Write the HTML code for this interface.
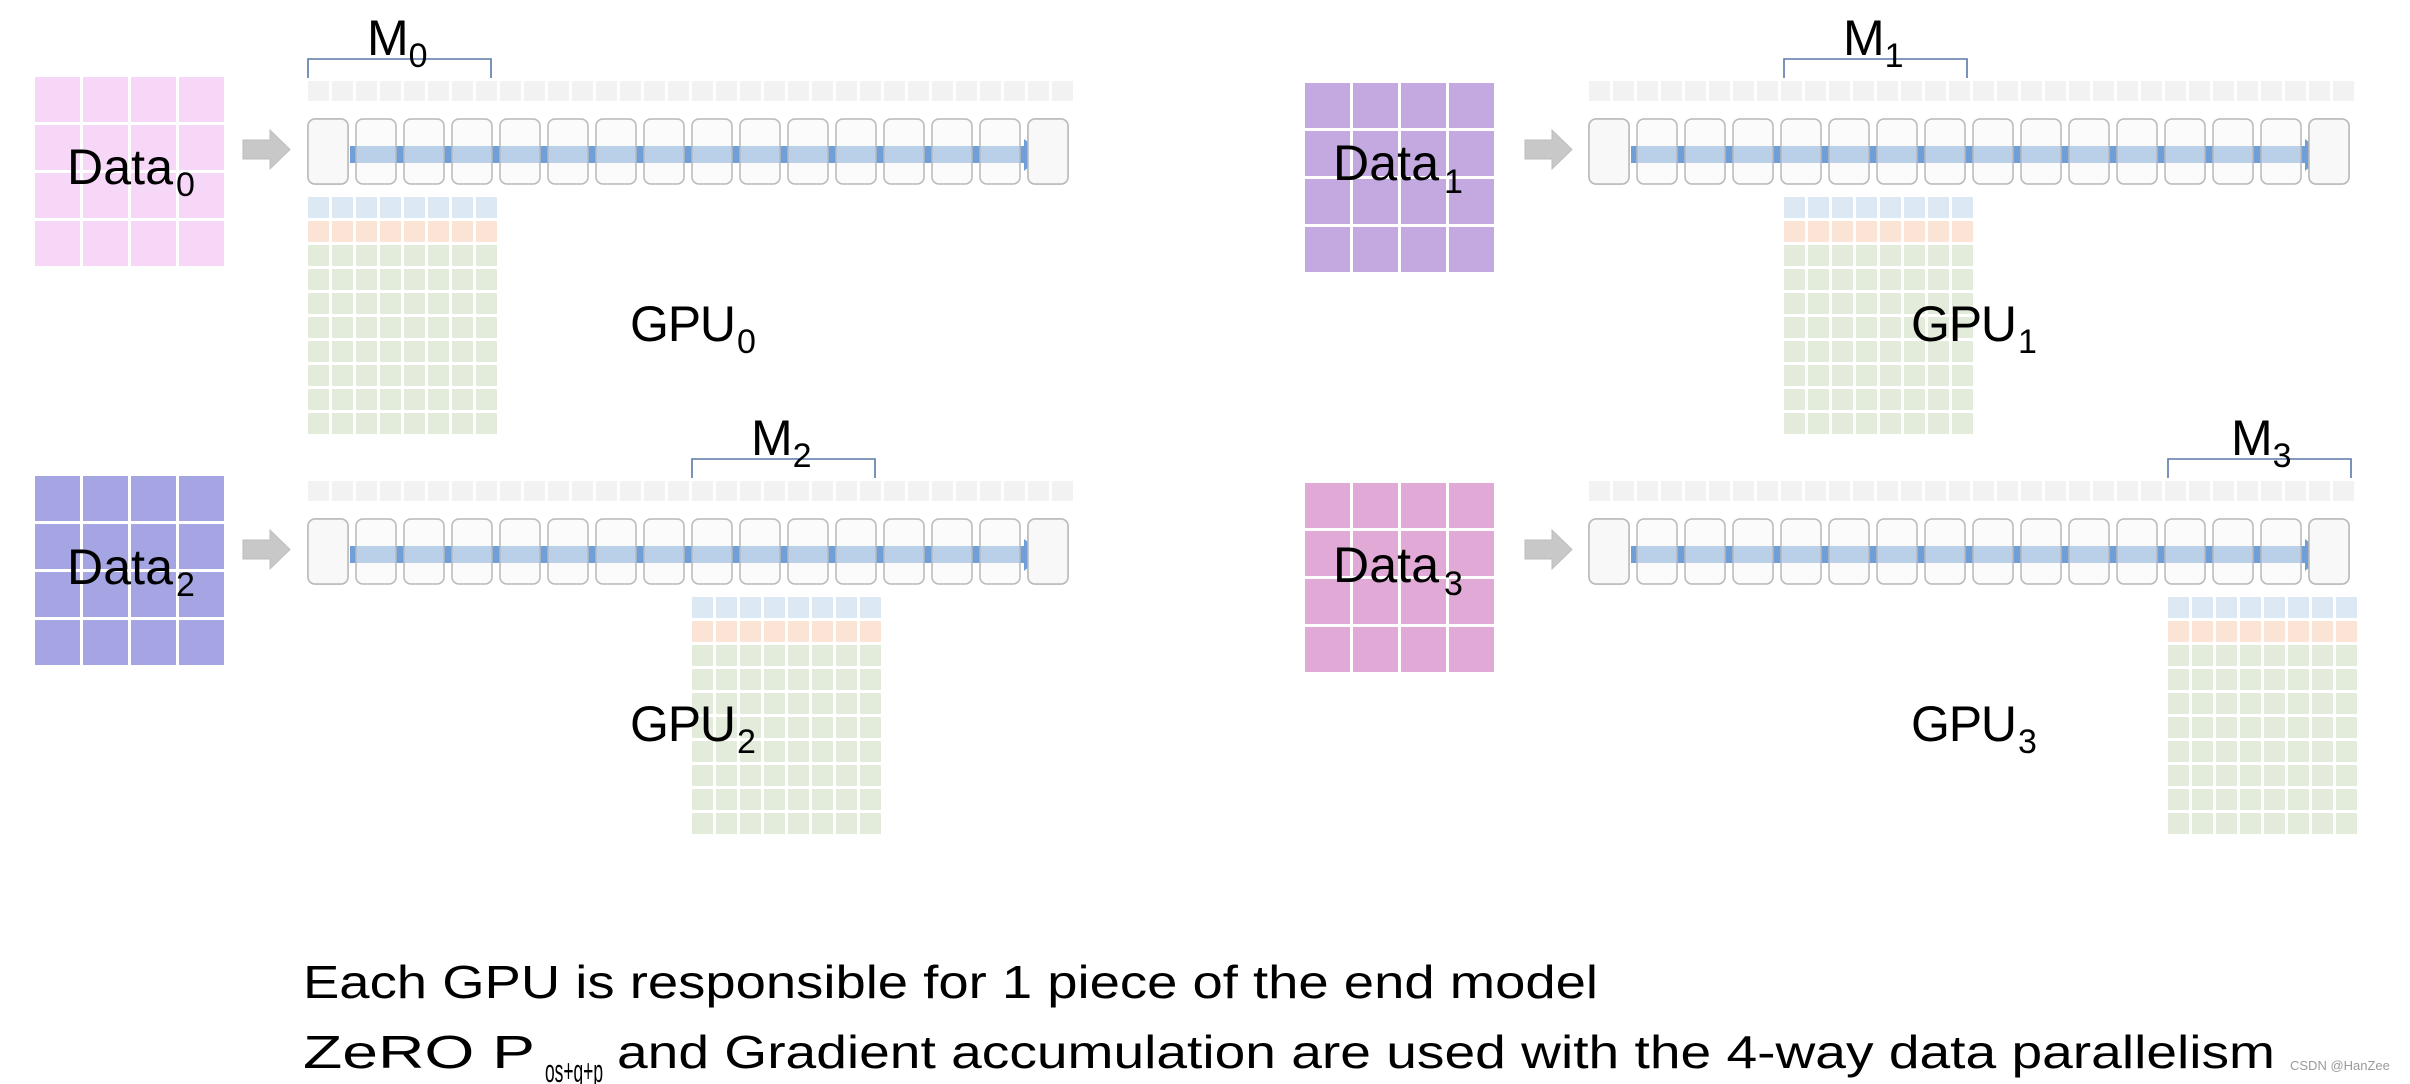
<!DOCTYPE html>
<html><head><meta charset="utf-8"><style>
html,body{margin:0;padding:0;background:#fff;}
svg{display:block;}
text{font-family:"Liberation Sans",sans-serif;fill:#000;}
</style></head><body>
<svg width="2410" height="1084" viewBox="0 0 2410 1084" xmlns="http://www.w3.org/2000/svg">
<defs>
  <g id="strip">
    <rect x="0" y="0" width="20" height="20" fill="#f2f2f2"/>
  </g>
  <g id="row">
    <!-- strip -->
    <g fill="#f2f2f2">
      <rect x="0" y="0" width="21" height="20"/><rect x="24" y="0" width="21" height="20"/><rect x="48" y="0" width="21" height="20"/><rect x="72" y="0" width="21" height="20"/>
      <rect x="96" y="0" width="21" height="20"/><rect x="120" y="0" width="21" height="20"/><rect x="144" y="0" width="21" height="20"/><rect x="168" y="0" width="21" height="20"/>
      <rect x="192" y="0" width="21" height="20"/><rect x="216" y="0" width="21" height="20"/><rect x="240" y="0" width="21" height="20"/><rect x="264" y="0" width="21" height="20"/>
      <rect x="288" y="0" width="21" height="20"/><rect x="312" y="0" width="21" height="20"/><rect x="336" y="0" width="21" height="20"/><rect x="360" y="0" width="21" height="20"/>
      <rect x="384" y="0" width="21" height="20"/><rect x="408" y="0" width="21" height="20"/><rect x="432" y="0" width="21" height="20"/><rect x="456" y="0" width="21" height="20"/>
      <rect x="480" y="0" width="21" height="20"/><rect x="504" y="0" width="21" height="20"/><rect x="528" y="0" width="21" height="20"/><rect x="552" y="0" width="21" height="20"/>
      <rect x="576" y="0" width="21" height="20"/><rect x="600" y="0" width="21" height="20"/><rect x="624" y="0" width="21" height="20"/><rect x="648" y="0" width="21" height="20"/>
      <rect x="672" y="0" width="21" height="20"/><rect x="696" y="0" width="21" height="20"/><rect x="720" y="0" width="21" height="20"/><rect x="744" y="0" width="21" height="20"/>
    </g>
    <!-- blue arrow -->
    <rect x="42" y="65" width="676" height="17" fill="#6f9fd8"/>
    <polygon points="716,58 736,73.5 716,90" fill="#6f9fd8"/>
    <!-- boxes -->
    <g fill="#f8f8f8" fill-opacity="0.55" stroke="#b8b8b8" stroke-width="1.5">
      <rect x="0" y="38" width="40" height="65" rx="7"/><rect x="48" y="38" width="40" height="65" rx="7"/><rect x="96" y="38" width="40" height="65" rx="7"/><rect x="144" y="38" width="40" height="65" rx="7"/>
      <rect x="192" y="38" width="40" height="65" rx="7"/><rect x="240" y="38" width="40" height="65" rx="7"/><rect x="288" y="38" width="40" height="65" rx="7"/><rect x="336" y="38" width="40" height="65" rx="7"/>
      <rect x="384" y="38" width="40" height="65" rx="7"/><rect x="432" y="38" width="40" height="65" rx="7"/><rect x="480" y="38" width="40" height="65" rx="7"/><rect x="528" y="38" width="40" height="65" rx="7"/>
      <rect x="576" y="38" width="40" height="65" rx="7"/><rect x="624" y="38" width="40" height="65" rx="7"/><rect x="672" y="38" width="40" height="65" rx="7"/><rect x="720" y="38" width="40" height="65" rx="7"/>
    </g>
    <rect x="0" y="38" width="40" height="65" rx="7" fill="#f8f8f8" stroke="#b8b8b8" stroke-width="1.5"/>
    <rect x="720" y="38" width="40" height="65" rx="7" fill="#f8f8f8" stroke="#b8b8b8" stroke-width="1.5"/>
  </g>
  <g id="garrow">
    <polygon points="0,10 27,10 27,0 47,19.5 27,39 27,29 0,29" fill="#c8c8c8" stroke="#bdbdbd" stroke-width="1"/>
  </g>
  <g id="shard">
    <g fill="#dde8f5">
      <rect x="0" y="0" width="21" height="21"/><rect x="24" y="0" width="21" height="21"/><rect x="48" y="0" width="21" height="21"/><rect x="72" y="0" width="21" height="21"/><rect x="96" y="0" width="21" height="21"/><rect x="120" y="0" width="21" height="21"/><rect x="144" y="0" width="21" height="21"/><rect x="168" y="0" width="21" height="21"/>
    </g>
    <g fill="#fbe4d6">
      <rect x="0" y="24" width="21" height="21"/><rect x="24" y="24" width="21" height="21"/><rect x="48" y="24" width="21" height="21"/><rect x="72" y="24" width="21" height="21"/><rect x="96" y="24" width="21" height="21"/><rect x="120" y="24" width="21" height="21"/><rect x="144" y="24" width="21" height="21"/><rect x="168" y="24" width="21" height="21"/>
    </g>
    <g id="grow" fill="#e3ecdb">
      <rect x="0" y="48" width="21" height="21"/><rect x="24" y="48" width="21" height="21"/><rect x="48" y="48" width="21" height="21"/><rect x="72" y="48" width="21" height="21"/><rect x="96" y="48" width="21" height="21"/><rect x="120" y="48" width="21" height="21"/><rect x="144" y="48" width="21" height="21"/><rect x="168" y="48" width="21" height="21"/>
    </g>
    <use href="#grow" y="24"/><use href="#grow" y="48"/><use href="#grow" y="72"/><use href="#grow" y="96"/><use href="#grow" y="120"/><use href="#grow" y="144"/><use href="#grow" y="168"/>
  </g>
  <g id="bracket">
    <path d="M0,19 V0 H183 V19" fill="none" stroke="#5a78a8" stroke-width="1.6"/>
  </g>
  <g id="dgrid">
    <rect x="0" y="0" width="45" height="45"/><rect x="48" y="0" width="45" height="45"/><rect x="96" y="0" width="45" height="45"/><rect x="144" y="0" width="45" height="45"/>
    <rect x="0" y="48" width="45" height="45"/><rect x="48" y="48" width="45" height="45"/><rect x="96" y="48" width="45" height="45"/><rect x="144" y="48" width="45" height="45"/>
    <rect x="0" y="96" width="45" height="45"/><rect x="48" y="96" width="45" height="45"/><rect x="96" y="96" width="45" height="45"/><rect x="144" y="96" width="45" height="45"/>
    <rect x="0" y="144" width="45" height="45"/><rect x="48" y="144" width="45" height="45"/><rect x="96" y="144" width="45" height="45"/><rect x="144" y="144" width="45" height="45"/>
  </g>
</defs>

<!-- GPU0 -->
<g fill="#f7d7f7"><use href="#dgrid" x="35" y="77"/></g>
<use href="#garrow" x="243" y="130"/>
<use href="#row" x="308" y="81"/>
<use href="#shard" x="308" y="197"/>
<use href="#bracket" x="308" y="59"/>
<text x="367" y="55" font-size="50">M<tspan font-size="34" dy="12">0</tspan></text>
<text x="67" y="184" font-size="50" textLength="106">Data</text><text x="176" y="196" font-size="34">0</text>
<text x="630" y="341" font-size="50" textLength="106">GPU</text><text x="737" y="353" font-size="34">0</text>

<!-- GPU1 -->
<g fill="#c4a8e0"><use href="#dgrid" x="1305" y="83"/></g>
<use href="#garrow" x="1525" y="130"/>
<use href="#row" x="1589" y="81"/>
<use href="#shard" x="1784" y="197"/>
<use href="#bracket" x="1784" y="59"/>
<text x="1843" y="55" font-size="50">M<tspan font-size="34" dy="12">1</tspan></text>
<text x="1333" y="180" font-size="50" textLength="106">Data</text><text x="1444" y="193" font-size="34">1</text>
<text x="1911" y="341" font-size="50" textLength="106">GPU</text><text x="2018" y="353" font-size="34">1</text>

<!-- GPU2 -->
<g fill="#a5a5e3"><use href="#dgrid" x="35" y="476"/></g>
<use href="#garrow" x="243" y="530"/>
<use href="#row" x="308" y="481"/>
<use href="#shard" x="692" y="597"/>
<use href="#bracket" x="692" y="459"/>
<text x="751" y="455" font-size="50">M<tspan font-size="34" dy="12">2</tspan></text>
<text x="67" y="584" font-size="50" textLength="106">Data</text><text x="176" y="596" font-size="34">2</text>
<text x="630" y="741" font-size="50" textLength="106">GPU</text><text x="737" y="753" font-size="34">2</text>

<!-- GPU3 -->
<g fill="#e0a9d6"><use href="#dgrid" x="1305" y="483"/></g>
<use href="#garrow" x="1525" y="530"/>
<use href="#row" x="1589" y="481"/>
<use href="#shard" x="2168" y="597"/>
<use href="#bracket" x="2168" y="459"/>
<text x="2231" y="455" font-size="50">M<tspan font-size="34" dy="12">3</tspan></text>
<text x="1333" y="582" font-size="50" textLength="106">Data</text><text x="1444" y="595" font-size="34">3</text>
<text x="1911" y="741" font-size="50" textLength="106">GPU</text><text x="2018" y="753" font-size="34">3</text>

<!-- bottom text -->
<text x="303" y="998" font-size="46" textLength="1295" lengthAdjust="spacingAndGlyphs">Each GPU is responsible for 1 piece of the end model</text>
<text x="303" y="1068" font-size="46" textLength="232" lengthAdjust="spacingAndGlyphs">ZeRO P</text>
<text x="545" y="1082" font-size="32" textLength="58" lengthAdjust="spacingAndGlyphs">os+g+p</text>
<text x="617" y="1068" font-size="46" textLength="1658" lengthAdjust="spacingAndGlyphs">and Gradient accumulation are used with the 4-way data parallelism</text>
<text x="2290" y="1070" font-size="13" fill="#999" style="fill:#9a9a9a">CSDN @HanZee</text>
</svg>
</body></html>
